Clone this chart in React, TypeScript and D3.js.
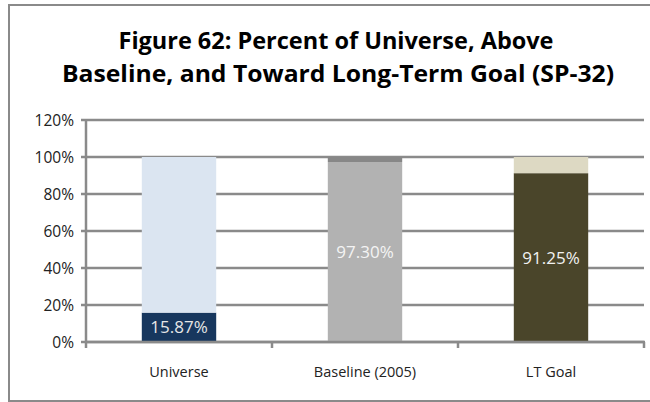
import React from "react";
import * as d3 from "d3";

const categories = ["Universe", "Baseline (2005)", "LT Goal"];
const mainValues = [15.87, 97.3, 91.25];
const topValues = [84.13, 2.7, 8.75];
const dataLabels = ["15.87%", "97.30%", "91.25%"];
const mainColors = ["#17375e", "#b2b2b2", "#4a452a"];
const topColors = ["#dbe5f1", "#878787", "#ddd9c3"];
const labelColors = ["#e6e6e6", "#f4f4f4", "#f2f2f2"];
const yTicks = [0, 20, 40, 60, 80, 100, 120];
const titleLines = ["Figure 62: Percent of Universe, Above", "Baseline, and Toward Long-Term Goal (SP-32)"];

const W = 650, H = 402;
const plot = { left: 86, right: 644, top: 120, bottom: 342 };

export default function App() {
  const x = d3.scaleBand<string>().domain(categories).range([plot.left, plot.right]).paddingInner(0.6).paddingOuter(0.3);
  const xb = d3.scaleBand<string>().domain(categories).range([plot.left, plot.right]);
  const y = d3.scaleLinear().domain([0, 120]).range([plot.bottom, plot.top]);
  const grid = "#8a8a8a";
  const font = "'Open Sans', sans-serif";
  return (
    <svg width={W} height={H} style={{ position: "absolute", left: 0, top: 0 }}>
      <rect x={0} y={0} width={W} height={H} fill="#fff" />
      <rect x={9} y={5} width={W} height={396} fill="none" stroke={grid} strokeWidth={2} />
      <g fontFamily="'Open Sans', sans-serif" fontWeight="bold" fontSize={24} fill="#000" textAnchor="middle">
        <text x={336} y={49} textLength={435} lengthAdjust="spacingAndGlyphs">{titleLines[0]}</text>
        <text x={338} y={82} textLength={552} lengthAdjust="spacingAndGlyphs">{titleLines[1]}</text>
      </g>
      {yTicks.map((t) => (
        <g key={t}>
          <line x1={plot.left - 5} x2={plot.right} y1={y(t)} y2={y(t)} stroke={grid} strokeWidth={2.5} />
          <text x={74} y={y(t)} dy="0.36em" textAnchor="end" fontFamily={font} fontSize={15.5} fill="#222">{t}%</text>
        </g>
      ))}
      <line x1={plot.left} x2={plot.left} y1={plot.top} y2={plot.bottom + 6} stroke={grid} strokeWidth={2.5} />
      {categories.map((c) => (
        <line key={c} x1={(xb(c) as number) + xb.bandwidth()} x2={(xb(c) as number) + xb.bandwidth()} y1={plot.bottom} y2={plot.bottom + 6} stroke={grid} strokeWidth={2.5} />
      ))}
      {categories.map((c, i) => {
        const bx = x(c) as number;
        const bw = x.bandwidth();
        return (
          <g key={c}>
            <rect x={bx} y={y(mainValues[i])} width={bw} height={y(0) - y(mainValues[i])} fill={mainColors[i]} />
            <rect x={bx} y={y(mainValues[i] + topValues[i])} width={bw} height={y(mainValues[i]) - y(mainValues[i] + topValues[i])} fill={topColors[i]} />
            <text x={bx + bw / 2} y={y(mainValues[i] / 2)} dy="0.36em" textAnchor="middle" fontFamily={font} fontSize={17} fill={labelColors[i]}>{dataLabels[i]}</text>
            <text x={bx + bw / 2} y={372} dy="0.36em" textAnchor="middle" fontFamily={font} fontSize={14.5} fill="#222">{c}</text>
          </g>
        );
      })}
      <line x1={plot.left - 1} x2={plot.right + 1} y1={plot.bottom} y2={plot.bottom} stroke={grid} strokeWidth={2.5} />
    </svg>
  );
}
